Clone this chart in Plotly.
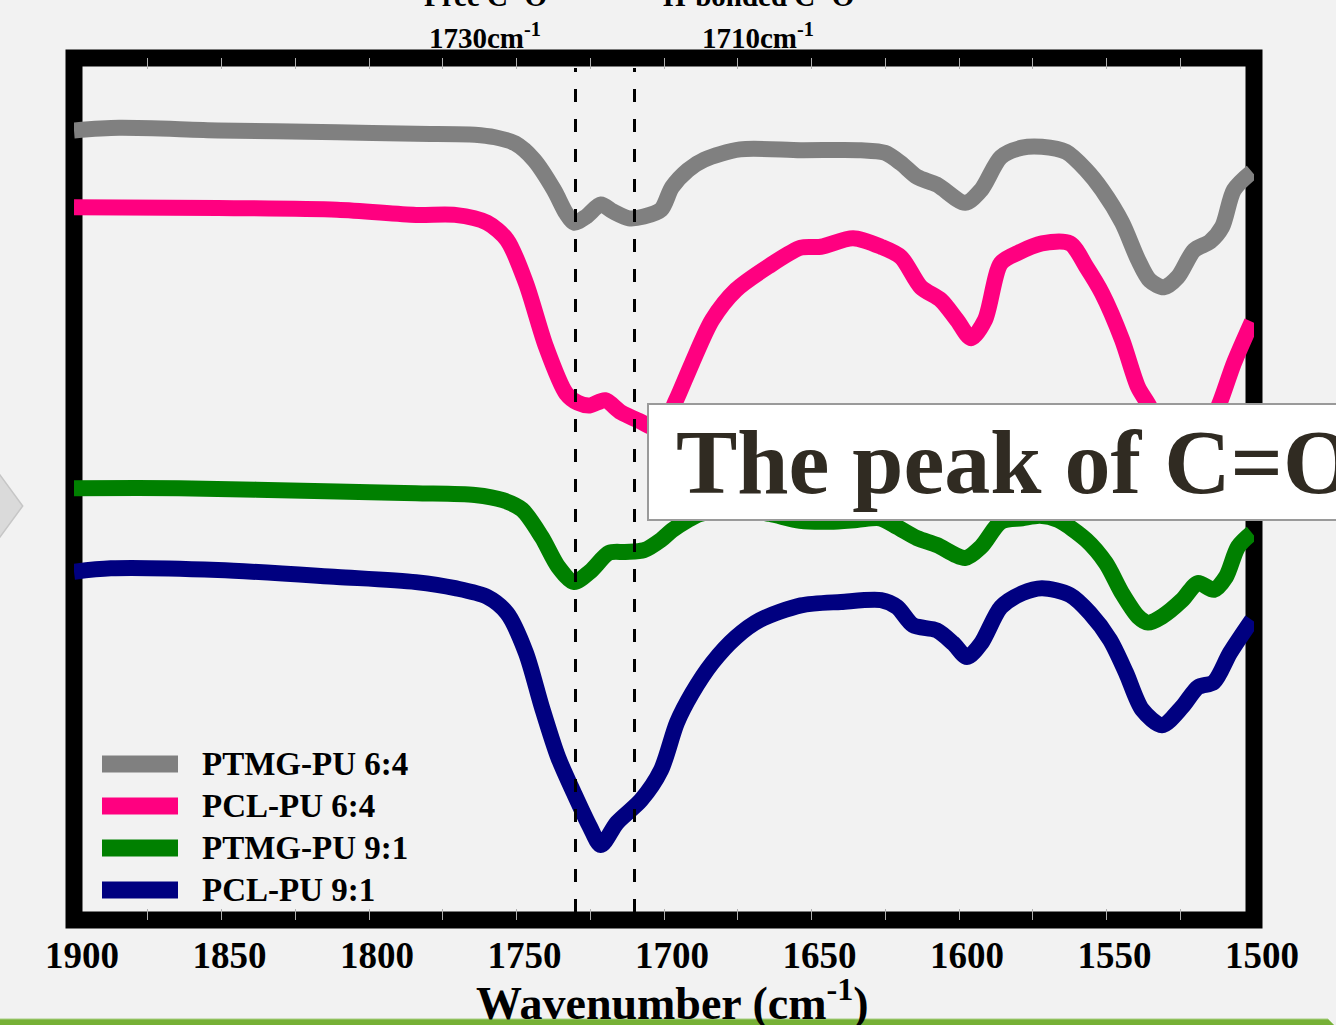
import plotly.graph_objects as go

# ---- FTIR spectra (wavenumber in cm^-1, transmittance in a.u., offset for clarity) ----
ptmg64_x = [1900, 1884.7, 1851.2, 1810.8, 1784.1, 1764.1, 1757.3, 1750.5, 1744.1, 1737.3,
            1733.2, 1730.5, 1726.4, 1721.4, 1717.3, 1711.9, 1706.8, 1701.0, 1697.3, 1691.9,
            1686.4, 1674.2, 1653.6, 1633.2, 1625.1, 1619.7, 1614.2, 1607.5, 1597.9, 1592.5,
            1585.8, 1578.6, 1571.9, 1563.7, 1556.9, 1551.5, 1544.7, 1539.3, 1535.3, 1530.5,
            1525.8, 1520.3, 1514.9, 1510.8, 1506.8, 1500.7]
ptmg64_y = [91.6, 91.9, 91.6, 91.4, 91.2, 91.1, 90.8, 90.1, 88.2, 84.7,
            82.0, 80.9, 81.6, 83.0, 82.2, 81.4, 81.6, 82.4, 85.0, 87.0,
            88.2, 89.4, 89.3, 89.3, 89.0, 87.8, 86.2, 85.3, 83.2, 84.7,
            88.5, 89.6, 89.7, 89.1, 87.0, 84.7, 80.9, 76.6, 74.2, 73.4,
            74.6, 77.7, 78.7, 80.4, 84.7, 86.8]

pcl64_x = [1900, 1851.2, 1810.8, 1784.1, 1770.8, 1760.0, 1753.2, 1746.8, 1740.0, 1733.2,
           1729.2, 1725.1, 1720.0, 1714.6, 1707.8, 1703.1, 1699.3, 1695.9, 1690.5, 1683.7,
           1675.6, 1664.7, 1653.6, 1646.8, 1635.9, 1626.4, 1619.7, 1612.9, 1606.1, 1600.7,
           1595.9, 1591.2, 1585.8, 1580.0, 1571.9, 1562.4, 1556.9, 1551.5, 1544.7, 1539.3,
           1535.3, 1531.2, 1528.5, 1524.4, 1519.0, 1514.9, 1512.2, 1506.8, 1500.7]
pcl64_y = [82.7, 82.6, 82.4, 81.8, 81.8, 80.9, 78.9, 73.9, 66.5, 61.1,
           60.0, 59.7, 60.3, 58.9, 57.8, 57.1, 58.0, 60.3, 64.6, 69.6,
           73.1, 75.8, 78.0, 78.1, 79.1, 78.1, 76.9, 73.4, 71.9, 69.6,
           67.5, 69.6, 76.2, 77.4, 78.5, 78.5, 75.8, 72.7, 67.3, 61.8,
           59.5, 55.7, 54.8, 55.5, 57.1, 58.0, 59.5, 64.6, 69.4]

ptmg91_x = [1900, 1864.4, 1810.8, 1784.1, 1764.1, 1754.6, 1748.1, 1741.4, 1735.9, 1730.5,
            1725.1, 1718.6, 1713.2, 1706.8, 1701.0, 1697.3, 1691.9, 1687.8, 1674.2, 1664.1,
            1653.9, 1643.7, 1634.6, 1626.8, 1621.0, 1614.2, 1607.5, 1597.9, 1592.5, 1585.8,
            1578.6, 1572.5, 1566.4, 1556.9, 1550.2, 1544.7, 1539.3, 1535.9, 1531.2, 1524.4,
            1519.0, 1513.6, 1509.5, 1505.4, 1500.7]
ptmg91_y = [50.1, 50.1, 49.7, 49.5, 49.3, 48.7, 47.6, 44.4, 41.0, 39.2,
            40.4, 42.6, 42.7, 42.9, 44.1, 45.2, 46.4, 47.1, 47.6, 47.1,
            46.3, 46.2, 46.4, 46.6, 45.6, 44.3, 43.5, 42.0, 43.3, 46.2,
            46.6, 46.9, 46.4, 44.1, 41.4, 37.9, 35.2, 34.5, 35.2, 37.1,
            39.1, 38.3, 39.8, 43.3, 44.9]

pcl91_x = [1900, 1887.5, 1851.2, 1810.8, 1784.1, 1770.8, 1760.0, 1753.2, 1746.8, 1741.4,
           1735.9, 1730.5, 1725.1, 1721.4, 1715.9, 1707.8, 1701.0, 1695.6, 1690.5, 1683.7,
           1675.6, 1667.5, 1653.6, 1640.0, 1626.4, 1621.0, 1615.6, 1607.5, 1602.0, 1597.3,
           1592.5, 1585.8, 1578.6, 1571.9, 1562.4, 1555.6, 1548.8, 1543.4, 1537.9, 1531.2,
           1524.4, 1519.0, 1513.6, 1508.1, 1500.7]
pcl91_y = [40.4, 40.8, 40.6, 39.8, 39.2, 38.5, 37.5, 35.6, 31.0, 24.7,
           18.9, 14.7, 10.8, 8.7, 11.3, 13.9, 17.4, 22.9, 26.3, 29.8,
           32.8, 34.8, 36.5, 36.9, 37.1, 36.3, 34.2, 33.6, 32.1, 30.5,
           32.1, 36.3, 37.9, 38.5, 37.7, 35.6, 32.5, 28.7, 24.4, 22.6,
           24.7, 27.0, 27.6, 31.0, 34.8]

series_names = ["PTMG-PU 6:4", "PCL-PU 6:4", "PTMG-PU 9:1", "PCL-PU 9:1"]
series_colors = ["#808080", "#ff0080", "#008000", "#000080"]
series_x = [ptmg64_x, pcl64_x, ptmg91_x, pcl91_x]
series_y = [ptmg64_y, pcl64_y, ptmg91_y, pcl91_y]

# reference carbonyl positions (cm^-1)
free_co = 1730
hbond_co = 1710

x_ticks = [1900, 1850, 1800, 1750, 1700, 1650, 1600, 1550, 1500]

# ---- page geometry (pixels) ----
W, H = 1336, 1025
L, R, T, B = 74, 1254, 58, 920
PW, PH = R - L, B - T


def px(x):
    return (x - L) / PW


def py(y):
    return (B - y) / PH


SERIF = "Liberation Serif"
BG = "#f2f2f2"

fig = go.Figure()
for name, color, xs, ys in zip(series_names, series_colors, series_x, series_y):
    fig.add_trace(go.Scatter(
        x=xs, y=ys, name=name, mode="lines",
        line=dict(color=color, width=16, shape="spline", smoothing=0.8),
        showlegend=False, hoverinfo="skip",
    ))

shapes = []
# heavy black frame
shapes.append(dict(type="rect", xref="paper", yref="paper", x0=0, x1=1, y0=0, y1=1,
                   line=dict(color="black", width=17), layer="below"))
# dashed markers for free and H-bonded C=O
for wn in (free_co, hbond_co):
    shapes.append(dict(type="line", xref="x", yref="paper", x0=wn, x1=wn,
                       y0=py(912), y1=py(68),
                       line=dict(color="black", width=3, dash="13px,17px"), layer="above"))

# legend swatches
legend_y = [764, 806, 848, 890]
for color, ly in zip(series_colors, legend_y):
    shapes.append(dict(type="line", xref="paper", yref="paper",
                       x0=px(102), x1=px(178), y0=py(ly), y1=py(ly),
                       line=dict(color=color, width=17), layer="above"))

# callout box
shapes.append(dict(type="rect", xref="paper", yref="paper",
                   x0=px(648), x1=px(1350), y0=py(520), y1=py(404),
                   fillcolor="white", line=dict(color="#9a9a9a", width=2), layer="above"))

# slide navigation chevron on the left edge
shapes.append(dict(type="path", xref="paper", yref="paper",
                   path=f"M {px(-20)} {py(447.7)} L {px(22.7)} {py(506)} L {px(-20)} {py(564.3)} Z",
                   fillcolor="#dadada", line=dict(color="#c6c6c6", width=1.5), layer="above"))

# green footer bar
shapes.append(dict(type="path", xref="paper", yref="paper",
                   path=(f"M {px(-10)} {py(1019)} L {px(1328)} {py(1019)} L {px(1340)} {py(1031)} "
                         f"L {px(-10)} {py(1031)} Z"),
                   fillcolor="#76b036", line=dict(color="#a9cf84", width=1), layer="above"))

annotations = []
for name, ly in zip(series_names, legend_y):
    annotations.append(dict(text=name, xref="paper", yref="paper", x=px(200), y=py(ly),
                            xanchor="left", yanchor="middle", showarrow=False,
                            font=dict(family=SERIF, size=33, color="black", weight="bold")))

# carbonyl labels above the frame
for cx, line1, line2 in ((485, "Free C=O", f"{free_co}cm<sup>-1</sup>"),
                         (758, "H-bonded C=O", f"{hbond_co}cm<sup>-1</sup>")):
    annotations.append(dict(text=line1, xref="paper", yref="paper", x=px(cx), y=py(-4),
                            xanchor="center", yanchor="middle", showarrow=False,
                            font=dict(family=SERIF, size=29, color="black", weight="bold")))
    annotations.append(dict(text=line2, xref="paper", yref="paper", x=px(cx), y=py(36),
                            xanchor="center", yanchor="middle", showarrow=False,
                            font=dict(family=SERIF, size=29, color="black", weight="bold")))

# callout text
annotations.append(dict(text="The peak of C=O", xref="paper", yref="paper",
                        x=px(674), y=py(462), xanchor="left", yanchor="middle", showarrow=False,
                        font=dict(family=SERIF, size=92, color="#302b22", weight="bold")))

# x-axis title
annotations.append(dict(text="Wavenumber (cm<sup>-1</sup>)", xref="paper", yref="paper",
                        x=px(672), y=py(1000), xanchor="center", yanchor="middle",
                        showarrow=False,
                        font=dict(family=SERIF, size=46, color="black", weight="bold")))

fig.update_layout(
    width=W, height=H, autosize=False,
    margin=dict(l=L, r=W - R, t=T, b=H - B, pad=0),
    paper_bgcolor=BG, plot_bgcolor=BG,
    showlegend=False,
    shapes=shapes, annotations=annotations,
    xaxis=dict(range=[1900, 1500], tickvals=x_ticks, ticktext=[str(t) for t in x_ticks],
               showgrid=False, zeroline=False, showline=False,
               ticks="inside", ticklen=11, tickwidth=1, tickcolor="#b0b0b0", mirror="ticks",
               minor=dict(dtick=25, ticks="inside", ticklen=11, tickwidth=1, tickcolor="#b0b0b0"),
               tickfont=dict(family=SERIF, size=37, color="black", weight="bold"),
               ticklabelshift=-8, ticklabelstandoff=10),
    yaxis=dict(range=[0, 100], visible=False),
)

fig.write_html("out.html")
